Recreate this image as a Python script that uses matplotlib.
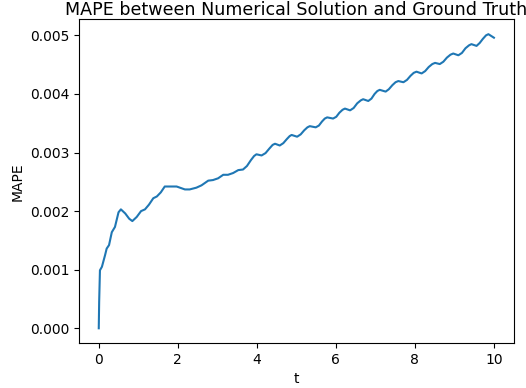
import matplotlib
matplotlib.use("Agg")
import matplotlib.pyplot as plt

# Time samples and mean absolute percentage error at each time
t = [0.0, 0.01, 0.03, 0.08, 0.16, 0.20, 0.26, 0.33, 0.41, 0.50, 0.56, 0.67,
     0.77, 0.85, 0.96, 1.07, 1.17, 1.27, 1.38, 1.47, 1.57, 1.67, 1.80, 1.97,
     2.18, 2.30, 2.47, 2.60, 2.77, 2.89, 3.02, 3.15, 3.27, 3.40, 3.53, 3.65,
     3.75, 3.85, 3.93, 3.99, 4.12, 4.22, 4.32, 4.40, 4.46, 4.58, 4.67, 4.76,
     4.83, 4.88, 5.02, 5.11, 5.20, 5.28, 5.34, 5.49, 5.57, 5.65, 5.72, 5.78,
     5.93, 6.01, 6.09, 6.17, 6.23, 6.36, 6.45, 6.54, 6.63, 6.69, 6.82, 6.90,
     6.98, 7.05, 7.11, 7.26, 7.34, 7.43, 7.51, 7.58, 7.71, 7.80, 7.89, 7.97,
     8.04, 8.17, 8.26, 8.35, 8.44, 8.51, 8.63, 8.72, 8.81, 8.90, 8.97, 9.10,
     9.19, 9.28, 9.37, 9.43, 9.56, 9.64, 9.72, 9.80, 9.86, 9.93, 10.0]
mape = [0.0, 0.00045, 0.00099, 0.00105, 0.00125, 0.00136, 0.00142, 0.00164,
        0.00173, 0.00198, 0.00203, 0.00196, 0.00187, 0.00183, 0.00190, 0.00200,
        0.00203, 0.00211, 0.00222, 0.00225, 0.00232, 0.00242, 0.00242, 0.00242,
        0.00237, 0.00237, 0.00240, 0.00244, 0.00252, 0.00253, 0.00256, 0.00262,
        0.00262, 0.00265, 0.00270, 0.00271, 0.00277, 0.00287, 0.00294, 0.00297,
        0.00295, 0.00299, 0.00307, 0.00313, 0.00315, 0.00312, 0.00316, 0.00323,
        0.00328, 0.00330, 0.00327, 0.00331, 0.00338, 0.00343, 0.00345, 0.00343,
        0.00346, 0.00353, 0.00358, 0.00360, 0.00358, 0.00361, 0.00368, 0.00373,
        0.00375, 0.00372, 0.00376, 0.00384, 0.00389, 0.00391, 0.00388, 0.00392,
        0.00400, 0.00405, 0.00407, 0.00404, 0.00408, 0.00415, 0.00420, 0.00422,
        0.00420, 0.00424, 0.00431, 0.00436, 0.00438, 0.00435, 0.00439, 0.00446,
        0.00451, 0.00453, 0.00451, 0.00455, 0.00462, 0.00467, 0.00469, 0.00466,
        0.00470, 0.00478, 0.00483, 0.00485, 0.00482, 0.00487, 0.00494, 0.00500,
        0.00502, 0.00499, 0.00496]

fig = plt.figure(figsize=(5.26, 3.88), dpi=100)
ax = fig.add_axes([0.1502, 0.116, 0.8264, 0.8338])
ax.plot(t, mape, color="#1f77b4", linewidth=1.5)
ax.set_title("MAPE between Numerical Solution and Ground Truth",
             fontsize=12.6, pad=2.7)
ax.set_xlabel("t")
ax.set_ylabel("MAPE")
ax.set_yticks([0.0, 0.001, 0.002, 0.003, 0.004, 0.005])
ax.set_yticklabels(["0.000", "0.001", "0.002", "0.003", "0.004", "0.005"])
fig.savefig("out.png", dpi=100)
